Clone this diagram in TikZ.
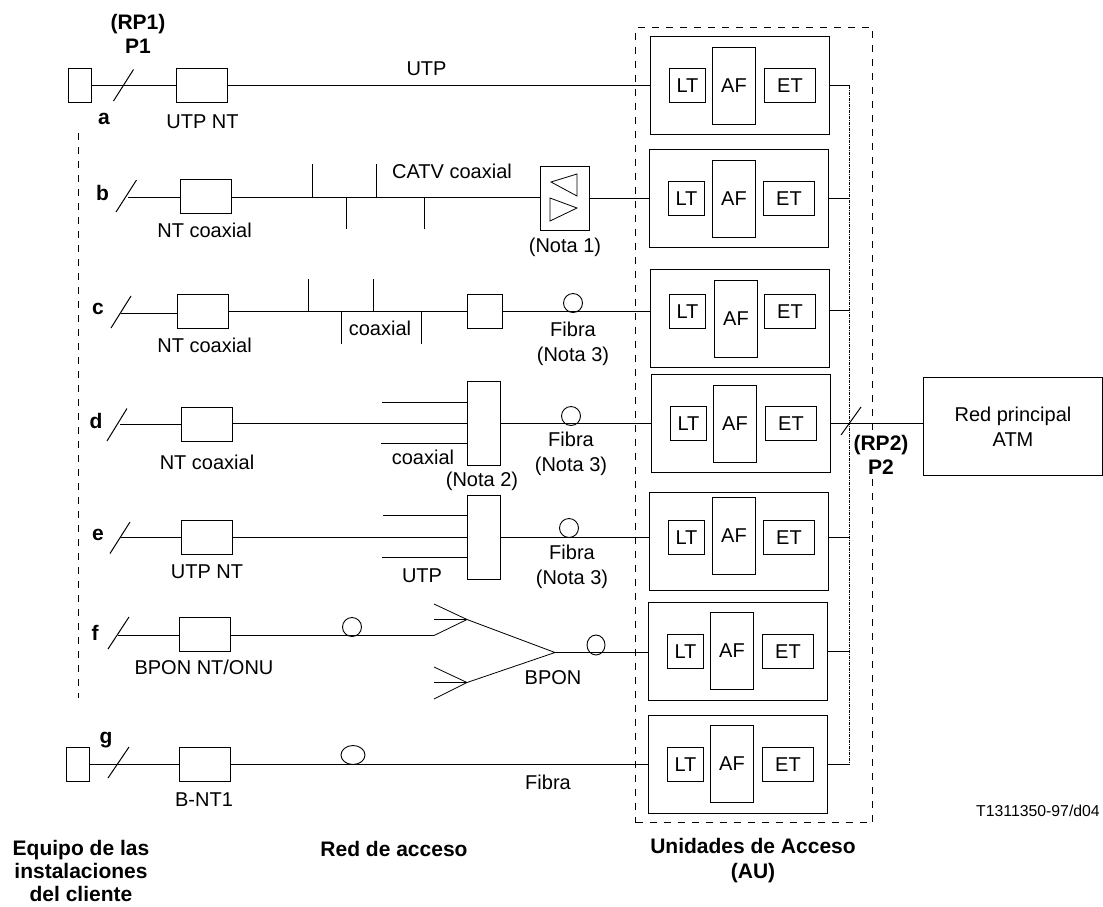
\documentclass[tikz,border=0pt]{standalone}
\usepackage{fontspec}
\setmainfont{Liberation Sans}
\usepackage{tikz}
\usetikzlibrary{positioning, calc, shapes.geometric}

\begin{document}
\begin{tikzpicture}[
    x=1pt, y=-1pt,
    font=\fontsize{20}{25}\selectfont,
    wire/.style={line width=1pt},
    thinwire/.style={line width=0.8pt},
    busline/.style={line width=0.8pt, dash pattern=on 3pt off 1pt on 1pt off 1pt},
    regionline/.style={line width=1pt, dash pattern=on 7pt off 7pt},
    unitbox/.style={draw, line width=1.1pt, inner sep=0pt, minimum width=179pt, minimum height=98pt},
    ltbox/.style={draw, line width=1pt, inner sep=0pt, minimum width=36pt, minimum height=34pt},
    afbox/.style={draw, line width=1pt, inner sep=0pt, minimum width=43pt, minimum height=77pt},
    etbox/.style={draw, line width=1pt, inner sep=0pt, minimum width=51pt, minimum height=34pt},
    ntbox/.style={draw, line width=1pt, inner sep=0pt, minimum width=51pt, minimum height=34pt},
    eqbox/.style={draw, line width=1pt, inner sep=0pt, minimum width=23pt, minimum height=34pt},
    muxbox/.style={draw, line width=1pt, inner sep=0pt, minimum width=33pt, minimum height=84pt},
    fibre/.style={draw, ellipse, line width=0.9pt, inner sep=0pt, minimum width=19pt, minimum height=19pt},
    lbl/.style={inner sep=0pt, align=center},
    boldlbl/.style={inner sep=0pt, align=center, font=\fontsize{21}{24.5}\selectfont\bfseries},
]
\useasboundingbox (0,0) rectangle (1103,906);

% Dashed regions
\coordinate (regionTop) at (78.5,133);
\coordinate (regionBot) at (78.5,698);
\draw[regionline] (regionTop) -- (regionBot);
\node[draw, regionline, inner sep=0pt, minimum width=237pt, minimum height=795pt] (auRegion) at (754,425) {};

% --- Access units ---
\foreach \n/\bx/\by/\ly/\ax/\ay in {A/740/85.5/85.5/734/86, B/739/198.5/198.5/734/199,
    C/740/318.5/311.5/736/319, D/741/423.5/423.5/735/424, E/739/541.5/537.5/734/536,
    F/738/651.5/651.5/732/651, G/738/764.5/764.5/732/764} {
    \node[unitbox] (au\n) at (\bx,\by) {};
    \node[ltbox] (lt\n) at (\bx-52.5,\ly) {LT};
    \node[afbox] (af\n) at (\ax,\ay) {AF};
    \node[etbox] (et\n) at (\bx+50,\ly) {ET};
}

% Bus on the right of the units
\coordinate (busA) at (849.5,85.5);
\coordinate (busB) at (849.5,198.5);
\coordinate (busC) at (849.5,310.5);
\coordinate (busD) at (849.5,423.5);
\coordinate (busE) at (849.5,537.5);
\coordinate (busF) at (849.5,651.5);
\coordinate (busG) at (849.5,764.5);
\draw[busline] (busA) -- (busG);
\foreach \n in {A,B,C,E,F,G} {
    \draw[wire] (bus\n -| au\n.east) -- (bus\n);
}

% Core network
\node[draw, line width=1.1pt, inner sep=0pt, minimum width=179pt, minimum height=98pt, align=center] (redNet) at (1013,426.5) {Red principal\\ATM};
\draw[wire] (busD -| auD.east) -- (busD -| redNet.west);

% --- Slashes ---
\foreach \n/\xa/\ya/\xb/\yb in {A/113.5/101/133.5/69.5, B/116/212/136.5/180, C/111/328/131/296,
    D/107/441/127/408.5, E/110/553.5/130/522, F/108/649/129/617, G/108/778/129/747, N/841/435/861/407} {
    \coordinate (sl\n a) at (\xa,\ya);
    \coordinate (sl\n b) at (\xb,\yb);
    \draw[wire] (sl\n a) -- (sl\n b);
}

% --- Row a ---
\node[eqbox] (eqA) at (80,85.5) {};
\node[ntbox] (ntA) at (202,85.5) {};
\draw[wire] (eqA) -- (ntA);
\draw[wire] (ntA) -- (ntA -| auA.west);
\node[boldlbl] (rpOne) at (138,34) {(RP1)\\P1};
\node[boldlbl] (lblA) at (104,119) {a};
\node[lbl] (capA) at (202.5,122) {UTP NT};
\node[lbl] (wireA) at (426.5,69) {UTP};

% --- Row b ---
\coordinate (startB) at (128,197.5);
\node[ntbox] (ntB) at (206,196.5) {};
\node[draw, line width=1pt, inner sep=0pt, minimum width=49pt, minimum height=64pt] (ampB) at (565,198.5) {};
\draw[wire] (startB) -- (startB -| ntB.west);
\draw[wire] (startB -| ntB.east) -- (startB -| ampB.west);
\draw[wire] (ampB) -- (auB);
\draw[thinwire] (551,182) -- (577,174) -- (577,196) -- cycle;
\draw[thinwire] (550,198) -- (550,221) -- (577,208) -- cycle;
\foreach \n/\tx/\ty in {a/312.5/164, b/376.5/164, c/346.5/229, d/424.5/229} {
    \coordinate (tipB\n) at (\tx,\ty);
    \draw[wire] (tipB\n) -- (tipB\n |- startB);
}
\node[boldlbl] (lblB) at (102.5,193) {b};
\node[lbl] (capB) at (204.6,230) {NT coaxial};
\node[lbl] (wireB) at (452,171) {CATV coaxial};
\node[lbl] (noteOne) at (565,247) {(Nota 1)};

% --- Row c ---
\coordinate (startC) at (121,313.5);
\node[ntbox] (ntC) at (203,311.5) {};
\node[draw, line width=1pt, inner sep=0pt, minimum width=35pt, minimum height=34pt] (cabC) at (485,311.5) {};
\node[fibre] (fibC) at (573,303) {};
\draw[wire] (startC) -- (startC -| ntC.west);
\draw[wire] (ntC) -- (cabC);
\draw[wire] (cabC) -- (cabC -| auC.west);
\foreach \n/\tx/\ty in {a/308.5/279, b/373.5/279, c/341.5/344, d/421.5/344} {
    \coordinate (tipC\n) at (\tx,\ty);
    \draw[wire] (tipC\n) -- (tipC\n |- cabC);
}
\node[boldlbl] (lblC) at (98,309) {c};
\node[lbl] (capC) at (204.6,345) {NT coaxial};
\node[lbl] (wireC) at (380,328) {coaxial};
\node[lbl] (fibTextC) at (573,343.5) {Fibra\\(Nota 3)};

% --- Row d ---
\coordinate (startD) at (120,424.5);
\coordinate (feedDa) at (382,402.5);
\coordinate (feedDb) at (381,443.5);
\node[ntbox] (ntD) at (207,424.5) {};
\node[muxbox] (muxD) at (484,423.5) {};
\node[fibre] (fibD) at (571,416) {};
\draw[wire] (startD) -- (startD -| ntD.west);
\draw[wire] (ntD.east |- muxD) -- (muxD);
\draw[wire] (feedDa) -- (feedDa -| muxD.west);
\draw[wire] (feedDb) -- (feedDb -| muxD.west);
\draw[wire] (muxD) -- (muxD -| auD.west);
\node[boldlbl] (lblD) at (96,421) {d};
\node[lbl] (capD) at (207,462.5) {NT coaxial};
\node[lbl] (wireD) at (423,457) {coaxial};
\node[lbl] (noteTwo) at (482,481) {(Nota 2)};
\node[lbl] (fibTextD) at (571,453.5) {Fibra\\(Nota 3)};

% --- Row e ---
\coordinate (startE) at (121,537.5);
\coordinate (feedEa) at (383,515.5);
\coordinate (feedEb) at (382,557.5);
\node[ntbox] (ntE) at (207,537.5) {};
\node[muxbox] (muxE) at (484,537.5) {};
\node[fibre] (fibE) at (569,528) {};
\draw[wire] (startE) -- (startE -| ntE.west);
\draw[wire] (startE -| ntE.east) -- (startE -| muxE.west);
\draw[wire] (feedEa) -- (feedEa -| muxE.west);
\draw[wire] (feedEb) -- (feedEb -| muxE.west);
\draw[wire] (startE -| muxE.east) -- (startE -| auE.west);
\node[boldlbl] (lblE) at (98,535) {e};
\node[lbl] (capE) at (207,571.4) {UTP NT};
\node[lbl] (wireE) at (422,576) {UTP};
\node[lbl] (fibTextE) at (572,566.5) {Fibra\\(Nota 3)};

% --- Row f: splitter ---
\coordinate (startF) at (118,635.5);
\coordinate (spIn) at (434,635.5);
\coordinate (spUp) at (467,619.5);
\coordinate (spUpa) at (434,604);
\coordinate (spUpb) at (434,619.5);
\coordinate (spLow) at (467,682.5);
\coordinate (spLowa) at (434,667);
\coordinate (spLowb) at (434,682.5);
\coordinate (spLowc) at (434,699);
\coordinate (spApex) at (555,652.5);
\node[ntbox] (ntF) at (205,634.5) {};
\node[fibre] (fibFa) at (352,627) {};
\node[fibre, minimum width=18pt, minimum height=20pt] (fibFb) at (596,645) {};
\draw[wire] (startF) -- (startF -| ntF.west);
\draw[wire] (startF -| ntF.east) -- (spIn);
\draw[thinwire] (spUpa) -- (spUp) -- (spApex) -- (spLow) -- (spLowa);
\draw[thinwire] (spIn) -- (spUp);
\draw[thinwire] (spUpb) -- (spUp);
\draw[thinwire] (spLowb) -- (spLow);
\draw[thinwire] (spLowc) -- (spLow);
\draw[wire] (spApex) -- (spApex -| auF.west);
\node[boldlbl] (lblF) at (95,633) {f};
\node[lbl] (capF) at (204,667) {BPON NT/ONU};
\node[lbl] (wireF) at (553,678) {BPON};

% --- Row g ---
\node[eqbox] (eqG) at (78,764.5) {};
\node[ntbox] (ntG) at (205,764.5) {};
\node[fibre, minimum width=24pt] (fibG) at (353,755) {};
\draw[wire] (eqG) -- (ntG);
\draw[wire] (ntG) -- (ntG -| auG.west);
\node[boldlbl] (lblG) at (106,740) {g};
\node[lbl] (capG) at (204,800) {B-NT1};
\node[lbl] (wireG) at (548,782) {Fibra};

% Footer
\node[boldlbl, font=\fontsize{21}{23}\selectfont\bfseries] (zoneCustomer) at (81,870.5) {Equipo de las\\instalaciones\\del cliente};
\node[boldlbl] (zoneAccess) at (394,849) {Red de acceso};
\node[boldlbl] (zoneUnits) at (753,860.5) {Unidades de Acceso\\(AU)};
\node[boldlbl, fill=white] (rpTwo) at (881,455) {(RP2)\\P2};
\node[lbl, font=\fontsize{15.8}{18}\selectfont] (refCode) at (1038,811) {T1311350-97/d04};

\end{tikzpicture}
\end{document}
